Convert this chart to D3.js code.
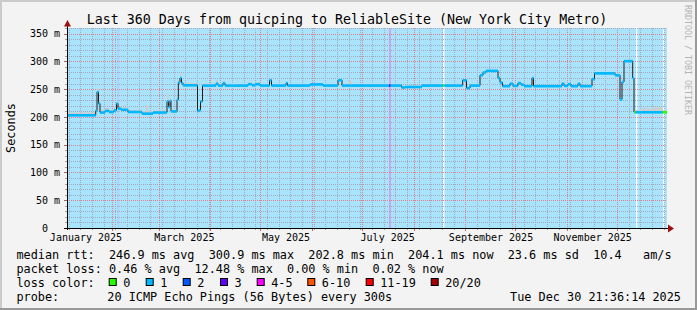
<!DOCTYPE html>
<html>
<head>
<meta charset="utf-8">
<script src="https://cdn.jsdelivr.net/npm/d3@7"></script>
<style>
  body { margin: 0; background: #f3f3f3; }
  svg text { font-family: "DejaVu Sans Mono", monospace; white-space: pre; }
</style>
</head>
<body>
<svg id="chart" width="697" height="310"></svg>
<script>
// ---- data ----
var title = "Last 360 Days from quicping to ReliableSite (New York City Metro)";
var startTime = "2025-01-04T21:36:14Z";
var endTime = "2025-12-30T21:36:14Z";
var yTicks = [0, 50, 100, 150, 200, 250, 300, 350];
var monthLabels = ["January 2025", "March 2025", "May 2025", "July 2025", "September 2025", "November 2025"];

// median steps: day of 2025 (fractional), median rtt in ms, top of smoke in ms, loss bucket
var stepDay = [3.9, 21.1, 21.9, 22.8, 23.7, 26.7, 29.1, 32.1, 33.6, 34.5, 36.3, 40.5, 48.9, 51.3, 52.5, 55.5,
  63.9, 64.8, 65.7, 66.3, 69.9, 70.7, 71.7, 72.6, 73.5, 82.2, 83.1, 84.0, 85.2, 93.3, 94.5, 97.5, 98.7,
  112.5, 114.9, 116.7, 119.7, 125.4, 126.6, 135.3, 136.2, 149.7, 157.5, 166.5, 168.9, 172.5, 174.9,
  197.1, 198.0, 204.7, 206.7, 216.9, 229.5, 230.4, 241.3, 243.6, 245.7, 251.7, 253.5, 255.3, 262.5,
  263.7, 265.2, 269.7, 271.5, 274.5, 276.3, 278.1, 282.9, 283.8, 300.9, 302.1, 304.5, 306.3, 310.5,
  311.7, 318.9, 320.4, 332.7, 335.7, 336.9, 338.1, 343.3, 344.1, 345.0, 349.0, 352.0, 355.0, 361.3];
var medianMs = [203, 211, 245, 224, 208, 211, 209, 212, 224, 215, 213, 209, 206, 206, 206, 208,
  228, 218, 229, 210, 231, 262, 270, 261, 257, 211, 212, 228, 256.5, 260, 256.5, 261, 256.5,
  259, 257, 259, 256.5, 266, 256.5, 261, 256.5, 258.5, 256.5, 266, 256.5, 256.5, 256.5,
  256.5, 256.5, 253, 254, 256.5, 256.5, 256.5, 266, 252, 256.5, 275, 280, 283, 270,
  262, 255.5, 260, 256, 261, 258, 255.5, 270, 255.5, 260, 256, 259, 255.5, 260,
  255.5, 268, 278.5, 275, 231.5, 263, 300.5, 270, 208.5, 208.5, 208.5, 208.5, 208.5, 208.5];
var smokeMs = [208, 214, 252, 230, 213, 216, 213, 216, 226, 218, 217, 213, 210, 221, 210, 212,
  242, 224, 232, 213, 235, 266, 278, 264, 261, 213, 214, 230, 260, 266, 259, 264, 259,
  262, 260, 262, 258, 268, 258, 263, 258, 260, 257, 267, 257, 264, 257,
  257, 257, 254, 256, 257, 257, 257, 267, 253, 257, 276, 281, 284, 272,
  263, 257, 262, 258, 263, 260, 257, 271, 257, 262, 257, 261, 257, 261,
  256, 270, 280, 278, 235, 266, 302, 272, 214, 213, 216, 214, 217, 212, 210];
var lossBucket = [1, 1, 1, 1, 1, 1, 1, 1, 1, 1, 1, 1, 1, 1, 1, 1,
  1, 1, 1, 1, 1, 1, 1, 1, 1, 1, 1, 1, 1, 1, 1, 1, 1,
  1, 1, 1, 1, 1, 1, 1, 1, 1, 1, 1, 1, 1, 1,
  3, 1, 1, 1, 1, 0, 1, 1, 1, 1, 1, 1, 1, 1,
  1, 1, 1, 1, 1, 1, 1, 1, 1, 1, 1, 1, 1, 1,
  1, 1, 1, 1, 1, 1, 1, 1, 0, 1, 1, 1, 1, 0];

// full height loss marks and unknown-data gaps (day of 2025)
var lossBarStart = [34.3, 197.1];
var lossBarEnd = [34.9, 198.3];
var gapDays = [229.5, 345.6, 361.5];

var lossNames = ["0", "1", "2", "3", "4-5", "6-10", "11-19", "20/20"];
var lossColors = ["#26ff00", "#00b8ff", "#0059ff", "#5e00ff", "#ff00ff", "#ff5500", "#ff0000", "#a10000"];

var rttLine = "median rtt:  246.9 ms avg  300.9 ms max  202.8 ms min  204.1 ms now  23.6 ms sd  10.4   am/s";
var lossLine = "packet loss: 0.46 % avg  12.48 % max  0.00 % min  0.02 % now";
var probeText = "20 ICMP Echo Pings (56 Bytes) every 300s";
var stampText = "Tue Dec 30 21:36:14 2025";

// ---- drawing ----
var svg = d3.select("#chart");
var W = 697, H = 310;
var pLeft = 67, pRight = 667, pTop = 28, pBottom = 228;

function dayToDate(d) { return new Date(Date.UTC(2025, 0, 1) + d * 864e5); }

var x = d3.scaleUtc().domain([new Date(startTime), new Date(endTime)]).range([pLeft, pRight]);
var y = d3.scaleLinear().domain([0, 360]).range([pBottom, pTop]);

// frame
svg.append("rect").attr("width", W).attr("height", H).attr("fill", "#f3f3f3");
svg.append("path").attr("d", "M0,1H697M1,0V310").attr("stroke", "#cbcbcb").attr("stroke-width", 2);
svg.append("path").attr("d", "M0,309H697M696,0V310").attr("stroke", "#999").attr("stroke-width", 2);

// plot background
svg.append("rect").attr("x", pLeft).attr("y", pTop).attr("width", pRight - pLeft).attr("height", pBottom - pTop)
  .attr("fill", "#a9e4fc");

// loss bars
lossBarStart.forEach(function(s, i) {
  var x0 = x(dayToDate(s)), x1 = x(dayToDate(lossBarEnd[i]));
  svg.append("rect").attr("x", x0).attr("y", pTop).attr("width", Math.max(1, x1 - x0)).attr("height", pBottom - pTop)
    .attr("fill", i == 0 ? "#b6c0fb" : "#c9a7f2");
});
// gaps
gapDays.forEach(function(d) {
  svg.append("rect").attr("x", Math.round(x(dayToDate(d)))).attr("y", pTop).attr("width", 1.4).attr("height", pBottom - pTop)
    .attr("fill", "#ffffff");
});

// grid
var grid = svg.append("g").attr("shape-rendering", "crispEdges").attr("stroke-dasharray", "1,1");
var minorY = d3.range(10, 361, 10).filter(function(v) { return v % 50 != 0; });
grid.selectAll(".hmin").data(minorY).enter().append("line")
  .attr("x1", pLeft).attr("x2", pRight).attr("y1", function(d) { return Math.round(y(d)) + 0.5; })
  .attr("y2", function(d) { return Math.round(y(d)) + 0.5; }).attr("stroke", "#a3a8bc");
var weeks = d3.utcMonday.range(x.domain()[0], x.domain()[1]);
grid.selectAll(".vmin").data(weeks).enter().append("line")
  .attr("y1", pTop).attr("y2", pBottom).attr("x1", function(d) { return Math.round(x(d)) + 0.5; })
  .attr("x2", function(d) { return Math.round(x(d)) + 0.5; }).attr("stroke", "#a3a8bc");
var months = d3.utcMonth.range(x.domain()[0], x.domain()[1]);
grid.selectAll(".vmaj").data(months).enter().append("line")
  .attr("y1", pTop).attr("y2", pBottom).attr("x1", function(d) { return Math.round(x(d)) + 0.5; })
  .attr("x2", function(d) { return Math.round(x(d)) + 0.5; }).attr("stroke", "#e0808c");
grid.selectAll(".hmaj").data(yTicks.slice(1)).enter().append("line")
  .attr("x1", pLeft).attr("x2", pRight).attr("y1", function(d) { return Math.round(y(d)) + 0.5; })
  .attr("y2", function(d) { return Math.round(y(d)) + 0.5; }).attr("stroke", "#e0808c");

// smoke
var pts = stepDay.map(function(d, i) {
  return { t: dayToDate(d), m: medianMs[i], s: smokeMs[i], l: lossBucket[i] };
});
pts.push({ t: new Date(endTime), m: medianMs[medianMs.length - 1], s: smokeMs[smokeMs.length - 1], l: 0 });

svg.append("path").datum(pts)
  .attr("d", d3.area().curve(d3.curveStepAfter)
    .x(function(d) { return x(d.t); })
    .y0(function(d) { return y(d.m); })
    .y1(function(d) { return y(d.s); }))
  .attr("fill", "#cdcdcd");

// median line (black) and loss coloured bands
svg.append("path").datum(pts)
  .attr("d", d3.line().curve(d3.curveStepAfter)
    .x(function(d) { return x(d.t); })
    .y(function(d) { return y(d.m); }))
  .attr("fill", "none").attr("stroke", "#202020").attr("stroke-width", 1);

svg.selectAll(".band").data(pts.slice(0, -1)).enter().append("rect")
  .attr("x", function(d) { return x(d.t); })
  .attr("width", function(d, i) { return Math.max(0.5, x(pts[i + 1].t) - x(d.t)); })
  .attr("y", function(d) { return y(d.m) - 1.2; })
  .attr("height", 2.6)
  .attr("fill", function(d) { return lossColors[d.l]; });

// axis ticks
var ticks = svg.append("g").attr("shape-rendering", "crispEdges");
yTicks.forEach(function(v) {
  ticks.append("line").attr("x1", pLeft - 3).attr("x2", pLeft).attr("y1", Math.round(y(v)) + 0.5)
    .attr("y2", Math.round(y(v)) + 0.5).attr("stroke", "#8a7070");
});
minorY.forEach(function(v) {
  ticks.append("line").attr("x1", pLeft - 2).attr("x2", pLeft).attr("y1", Math.round(y(v)) + 0.5)
    .attr("y2", Math.round(y(v)) + 0.5).attr("stroke", "#a0a0a0");
});
months.forEach(function(d) {
  ticks.append("line").attr("x1", Math.round(x(d)) + 0.5).attr("x2", Math.round(x(d)) + 0.5)
    .attr("y1", pBottom).attr("y2", pBottom + 3).attr("stroke", "#d06070");
});
weeks.forEach(function(d) {
  ticks.append("line").attr("x1", Math.round(x(d)) + 0.5).attr("x2", Math.round(x(d)) + 0.5)
    .attr("y1", pBottom).attr("y2", pBottom + 2).attr("stroke", "#a0a0a0");
});

// axis lines and arrows
svg.append("path").attr("d", "M" + (pLeft + 0.5) + "," + (pBottom + 2) + "V25").attr("stroke", "#000").attr("shape-rendering", "crispEdges");
svg.append("path").attr("d", "M" + (pLeft - 3) + "," + (pBottom + 0.5) + "H669").attr("stroke", "#000").attr("shape-rendering", "crispEdges");
svg.append("path").attr("d", "M64,26.5L67.5,20L71,26.5Z").attr("fill", "#9a1010");
svg.append("path").attr("d", "M668,224.5L674,228.5L668,232.5Z").attr("fill", "#9a1010");

// y axis labels
var yAxis = d3.axisLeft(y).tickValues(yTicks).tickSize(0).tickPadding(7)
  .tickFormat(function(v) { return v == 0 ? "0  " : v + " m"; });
var gy = svg.append("g").attr("transform", "translate(" + pLeft + ",0)").call(yAxis);
gy.select(".domain").remove();
gy.selectAll("text").attr("font-family", "DejaVu Sans Mono").attr("font-size", "10px").attr("fill", "#000");

// x axis labels (rrdtool centres them half a month after the month start)
var labelDates = monthLabels.map(function(m) { return d3.utcDay.offset(d3.utcParse("%B %Y")(m), 15); });
var xAxis = d3.axisBottom(x).tickValues(labelDates).tickSize(0).tickPadding(5.4)
  .tickFormat(d3.utcFormat("%B %Y"));
var gx = svg.append("g").attr("transform", "translate(0," + pBottom + ")").call(xAxis);
gx.select(".domain").remove();
gx.selectAll("text").attr("font-family", "DejaVu Sans Mono").attr("font-size", "10px").attr("fill", "#000");

// title and axis title
svg.append("text").attr("x", 347).attr("y", 23.5).attr("text-anchor", "middle")
  .attr("font-size", "13.3px").text(title);
svg.append("text").attr("transform", "translate(15,128) rotate(-90)").attr("text-anchor", "middle")
  .attr("font-size", "11.84px").text("Seconds");
svg.append("text").attr("transform", "translate(684.5,5) rotate(90)")
  .attr("font-size", "8.3px").attr("fill", "#b4b4b4").text("RRDTOOL / TOBI OETIKER");

// legend
var lg = svg.append("g").attr("font-size", "11.84px").attr("fill", "#000");
lg.append("text").attr("x", 16.4).attr("y", 258.5).text(rttLine);
lg.append("text").attr("x", 16.4).attr("y", 272.5).text(lossLine);
lg.append("text").attr("x", 16.4).attr("y", 286.5).text("loss color:");
var swatchX = [108.7, 145.7, 182.7, 220, 256.7, 307.3, 365.7, 430.7];
lossNames.forEach(function(n, i) {
  lg.append("rect").attr("x", swatchX[i] + 0.5).attr("y", 278.5).attr("width", 7).attr("height", 7)
    .attr("fill", lossColors[i]).attr("stroke", "#000").attr("stroke-width", 1);
  lg.append("text").attr("x", swatchX[i] + 14.5).attr("y", 286.5).text(n);
});
lg.append("text").attr("x", 16.4).attr("y", 300.5).text("probe:");
lg.append("text").attr("x", 107.3).attr("y", 300.5).text(probeText);
lg.append("text").attr("x", 681).attr("y", 300.5).attr("text-anchor", "end").text(stampText);
</script>
</body>
</html>
